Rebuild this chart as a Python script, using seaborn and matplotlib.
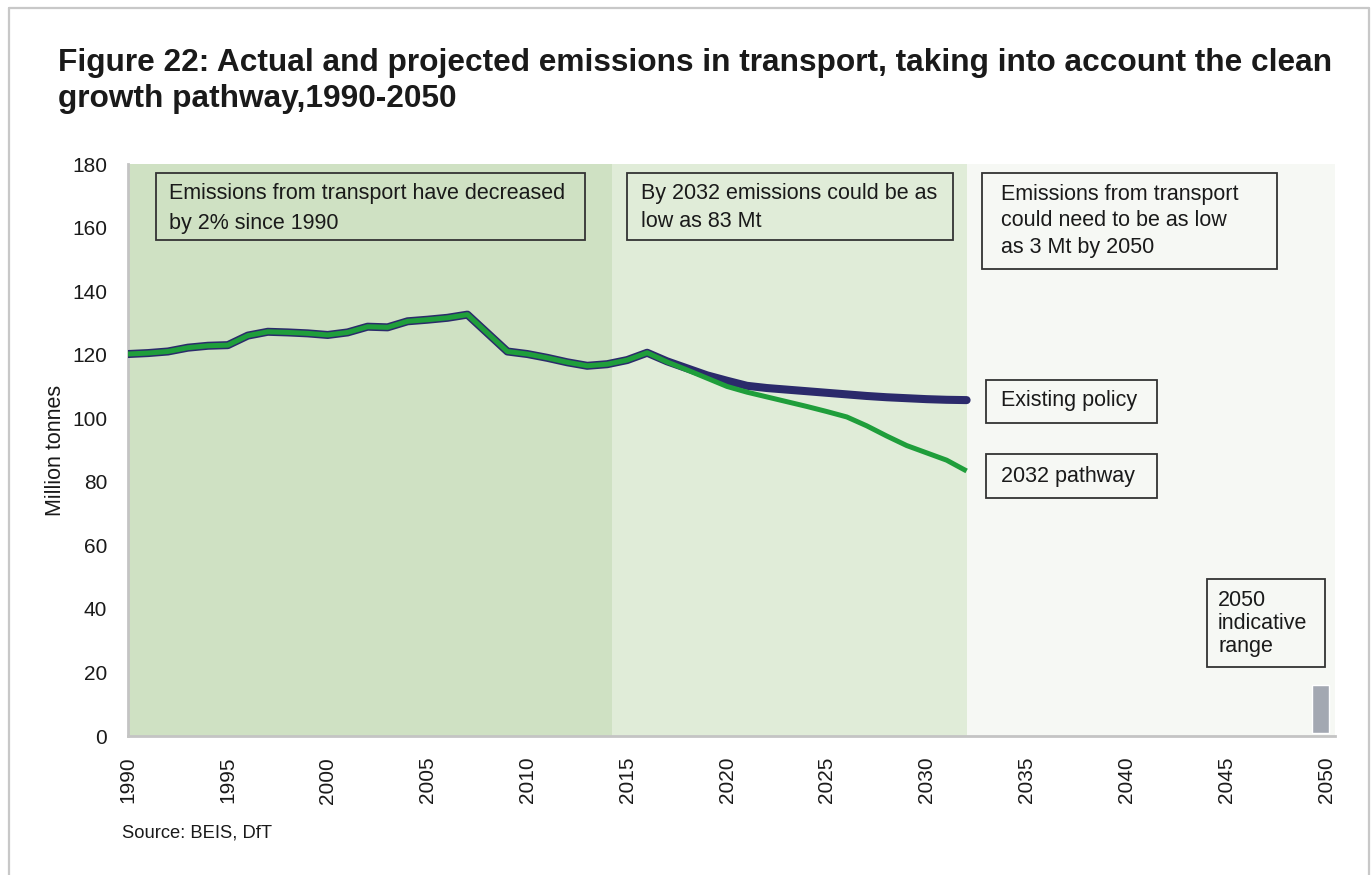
import numpy as np
import pandas as pd
import seaborn as sb
import matplotlib.pyplot as plt
from matplotlib.patches import Rectangle
from matplotlib.lines import Line2D

# data (million tonnes CO2e)
years = list(range(1990, 2033))
existing_policy = [
    120.2, 120.5, 121.0, 122.2, 122.8, 123.0, 126.0, 127.2, 127.0, 126.7,
    126.2, 127.0, 128.8, 128.6, 130.5, 131.0, 131.6, 132.6, 126.8, 121.0,
    120.2, 119.0, 117.6, 116.5, 117.0, 118.3, 120.6, 117.9, 115.7, 113.5,
    111.8, 110.2, 109.5, 109.0, 108.5, 108.0, 107.5, 107.0, 106.6, 106.3,
    106.0, 105.8, 105.7,
]
pathway_2032 = [
    120.2, 120.5, 121.0, 122.2, 122.8, 123.0, 126.0, 127.2, 127.0, 126.7,
    126.2, 127.0, 128.8, 128.6, 130.5, 131.0, 131.6, 132.6, 126.8, 121.0,
    120.2, 119.0, 117.6, 116.5, 117.0, 118.3, 120.6, 117.7, 115.2, 112.6,
    110.0, 108.2, 106.7, 105.2, 103.7, 102.1, 100.4, 97.6, 94.4, 91.4,
    89.1, 86.8, 83.4,
]
range_2050_year = [2049.7]
range_2050_low = [1.0]
range_2050_high = [16.0]

x_ticks = list(range(1990, 2051, 5))
y_ticks = list(range(0, 181, 20))

W, H = 1372, 875


def fx(px):
    return px / W


def fy(py):
    return 1 - py / H


def px_box(fig, x0, y0, x1, y1):
    fig.add_artist(Rectangle((fx(x0), fy(y1)), fx(x1) - fx(x0), fy(y0) - fy(y1),
                             transform=fig.transFigure, facecolor="none",
                             edgecolor="#333333", linewidth=1.3, zorder=5))


def px_text(fig, x, y, s, spacing=1.3):
    fig.text(fx(x), fy(y), s, transform=fig.transFigure, ha="left", va="top",
             fontsize=15.5, color="#1a1a1a", linespacing=spacing, zorder=6)


def plot_emissions():
    sb.set_theme(style="white")
    plt.rcParams["font.family"] = ["Liberation Sans", "DejaVu Sans"]

    df = pd.DataFrame({"Year": years, "Existing policy": existing_policy,
                       "2032 pathway": pathway_2032})

    fig = plt.figure(figsize=(13.72, 8.75), dpi=100)
    ax = fig.add_axes([fx(128), fy(736), fx(1335) - fx(128), fy(164) - fy(736)])

    # background bands
    ax.axvspan(1990, 2014.24, color="#cfe1c3", lw=0, zorder=0)
    ax.axvspan(2014.24, 2032, color="#e0ecd8", lw=0, zorder=0)
    ax.axvspan(2032, 2050.45, color="#f6f8f4", lw=0, zorder=0)

    sb.lineplot(data=df, x="Year", y="Existing policy", ax=ax, color="#2b2a6b",
                linewidth=5.8, solid_capstyle="round", solid_joinstyle="round",
                zorder=3)
    sb.lineplot(data=df, x="Year", y="2032 pathway", ax=ax, color="#1f9e3b",
                linewidth=3.6, solid_capstyle="butt", solid_joinstyle="round",
                zorder=4)

    ax.bar(range_2050_year, np.array(range_2050_high) - np.array(range_2050_low),
           bottom=range_2050_low, width=0.85, color="#a3a8b2", zorder=3)

    ax.set_xlim(1990, 2050.45)
    ax.set_ylim(0, 180)
    ax.set_xticks(x_ticks)
    ax.set_xticklabels([str(t) for t in x_ticks], rotation=90)
    ax.set_yticks(y_ticks)
    ax.set_xlabel("")
    ax.set_ylabel("Million tonnes", fontsize=15.5, color="#1a1a1a", labelpad=4)
    ax.tick_params(axis="both", direction="out", length=9, width=2,
                   color="#c4c4c4", labelsize=15, labelcolor="#1a1a1a", pad=6)
    for side in ["top", "right"]:
        ax.spines[side].set_visible(False)
    for side in ["left", "bottom"]:
        ax.spines[side].set_color("#c4c4c4")
        ax.spines[side].set_linewidth(2)

    # title and source
    fig.text(fx(58), fy(48), "Figure 22: Actual and projected emissions in transport, taking into account the clean\ngrowth pathway,1990-2050",
             ha="left", va="top", fontsize=22.8, fontweight="bold",
             color="#1a1a1a", linespacing=1.27)
    fig.text(fx(122), fy(833), "Source: BEIS, DfT", ha="left", va="center",
             fontsize=13.2, color="#1a1a1a")

    # annotation boxes
    px_box(fig, 156, 173, 585, 240)
    px_text(fig, 169, 183, "Emissions from transport have decreased\nby 2% since 1990", 1.55)
    px_box(fig, 627, 173, 953, 240)
    px_text(fig, 641, 183, "By 2032 emissions could be as\nlow as 83 Mt", 1.45)
    px_box(fig, 982, 173, 1277, 269)
    px_text(fig, 1001, 184, "Emissions from transport\ncould need to be as low\nas 3 Mt by 2050", 1.33)
    px_box(fig, 986, 380, 1157, 423)
    px_text(fig, 1001, 390, "Existing policy")
    px_box(fig, 986, 454, 1157, 498)
    px_text(fig, 1001, 466, "2032 pathway")
    px_box(fig, 1207, 579, 1325, 667)
    px_text(fig, 1218, 590, "2050\nindicative\nrange", 1.12)

    # page frame
    for xs, ys in [([8.5, 8.5], [875, 8]), ([8.5, 1369], [8, 8]), ([1369, 1369], [8, 875])]:
        fig.add_artist(Line2D([fx(v) for v in xs], [fy(v) for v in ys],
                              transform=fig.transFigure, color="#c8c8c8", lw=1.6))

    fig.savefig("out.png", dpi=100)


def main():
    plot_emissions()


if __name__ == "__main__":
    main()
